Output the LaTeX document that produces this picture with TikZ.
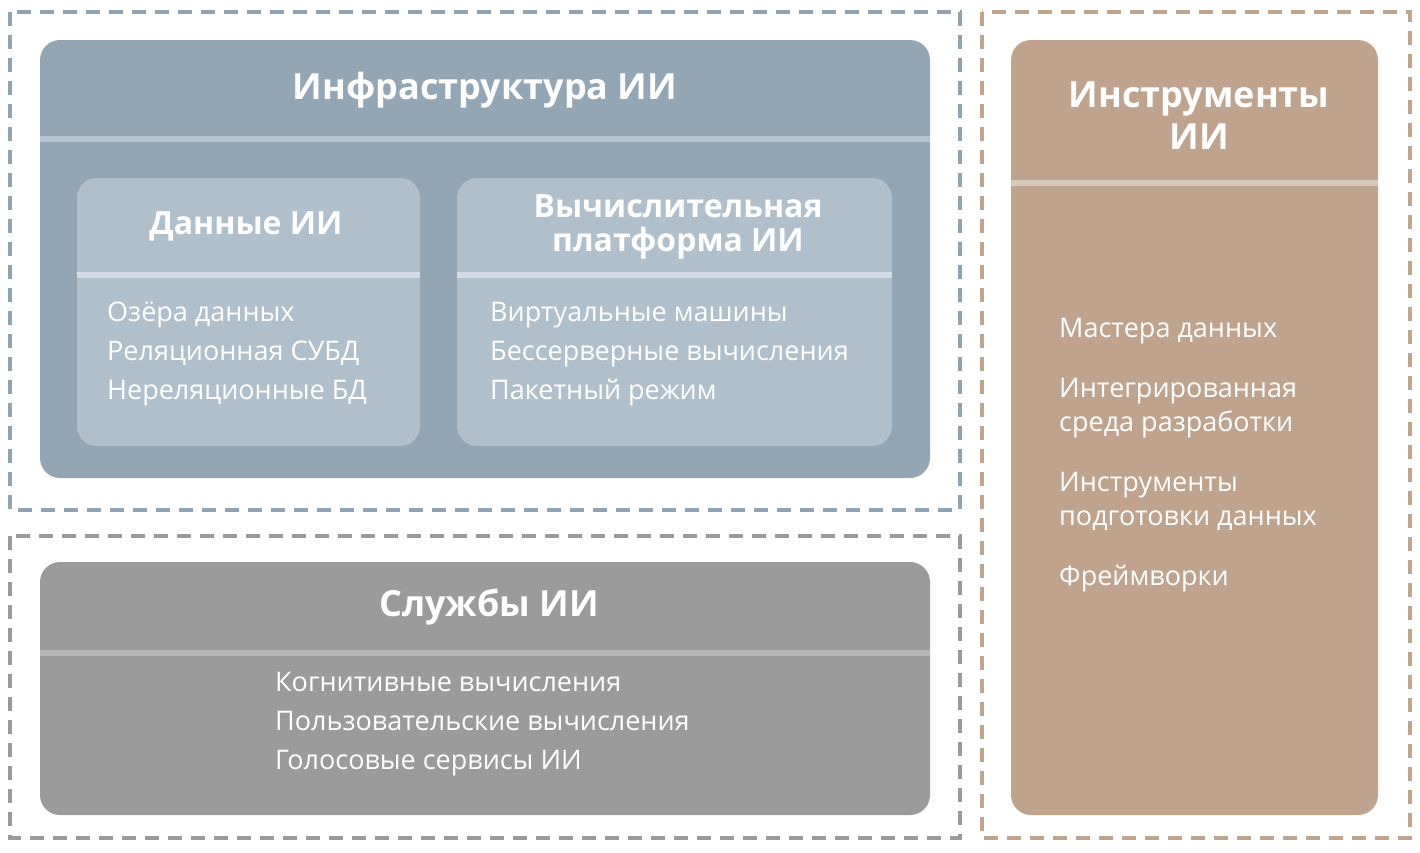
\documentclass[tikz,border=0pt]{standalone}
\usepackage{fontspec}
\setmainfont{Open Sans}
\definecolor{bdash}{HTML}{8FA3B3}
\definecolor{gdash}{HTML}{9A9A9A}
\definecolor{tdash}{HTML}{C0A48C}
\definecolor{infra}{HTML}{93A6B5}
\definecolor{infsep}{HTML}{B6C4CF}
\definecolor{inner}{HTML}{B0BFCC}
\definecolor{innsep}{HTML}{D3DCE4}
\definecolor{serv}{HTML}{9B9B9B}
\definecolor{servsep}{HTML}{B6B6B6}
\definecolor{tool}{HTML}{C0A38C}
\definecolor{toolsep}{HTML}{D9C9BB}
\begin{document}
\begin{tikzpicture}[x=1pt,y=-1pt,
  dbox/.style={dashed,line width=3.5pt,dash pattern=on 14pt off 9pt},
  panel/.style={rounded corners=20pt},
  sep/.style={line width=6pt},
  ttl/.style={text=white,font=\fontsize{36}{40}\selectfont\bfseries,align=center},
  sttl/.style={text=white,font=\fontsize{32}{34}\selectfont\bfseries,align=center},
  item/.style={text=white,font=\fontsize{27}{39}\selectfont,align=left,anchor=north west,inner sep=0pt}]
\useasboundingbox (0,0) rectangle (1420,852);
\draw[dbox,bdash] (10,12) rectangle (960,510);
\draw[dbox,gdash] (10,536) rectangle (960,838);
\draw[dbox,tdash] (982,12) rectangle (1410,838);
% infra
\fill[panel,infra] (40,40) rectangle (930,478);
\draw[sep,infsep] (40,139) -- (930,139);
\node[ttl] (it) at (485,90) {Инфраструктура ИИ};
\fill[panel,inner] (77,178) rectangle (420,446);
\draw[sep,innsep] (77,275) -- (420,275);
\node[sttl] (dt) at (246,226) {Данные ИИ};
\node[item] (di) at (107,302) {Озёра данных\\Реляционная СУБД\\Нереляционные БД};
\fill[panel,inner] (457,178) rectangle (892,446);
\draw[sep,innsep] (457,275) -- (892,275);
\node[sttl] (ct) at (678,227) {Вычислительная\\платформа ИИ};
\node[item] (ci) at (490,302) {Виртуальные машины\\Бессерверные вычисления\\Пакетный режим};
% services
\fill[panel,serv] (40,562) rectangle (930,815);
\draw[sep,servsep] (40,653) -- (930,653);
\node[ttl] (st) at (489,607) {Службы ИИ};
\node[item] (si) at (275,672) {Когнитивные вычисления\\Пользовательские вычисления\\Голосовые сервисы ИИ};
% tools
\fill[panel,tool] (1011,40) rectangle (1378,815);
\draw[sep,toolsep] (1011,183) -- (1378,183);
\node[ttl,font=\fontsize{36}{42}\selectfont\bfseries] (tt) at (1199,116) {Инструменты\\ИИ};
\node[item,font=\fontsize{27}{34}\selectfont] (ti) at (1059,318) {Мастера данных\\[26pt]Интегрированная\\среда разработки\\[26pt]Инструменты\\подготовки данных\\[26pt]Фреймворки};
\end{tikzpicture}
\end{document}
